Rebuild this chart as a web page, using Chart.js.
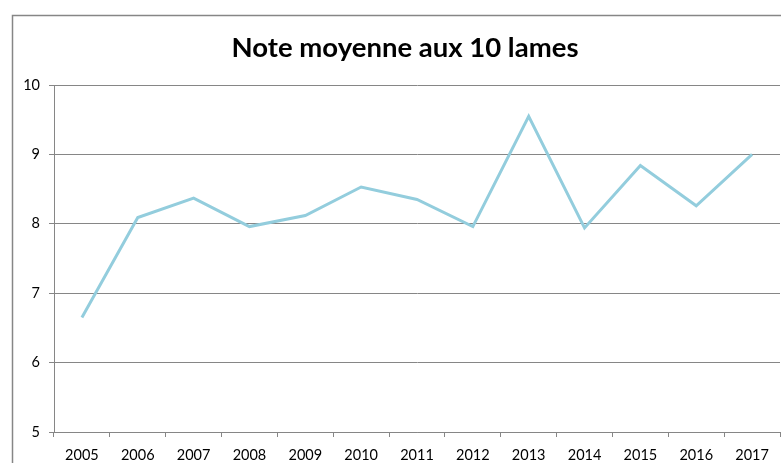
<!DOCTYPE html>
<html><head><meta charset="utf-8">
<script src="https://cdn.jsdelivr.net/npm/chart.js@4/dist/chart.umd.min.js"></script>
<style>
html,body{margin:0;padding:0;background:#fff;overflow:hidden;width:781px;height:463px;}
#wrap{position:absolute;left:0;top:0;width:810px;height:463px;}
</style></head>
<body>
<div id="wrap"><canvas id="c" width="810" height="463"></canvas></div>
<script>
const years = ['2005','2006','2007','2008','2009','2010','2011','2012','2013','2014','2015','2016','2017'];
const notes = [6.65, 8.09, 8.37, 7.96, 8.12, 8.53, 8.35, 7.96, 9.55, 7.94, 8.84, 8.26, 9.0];
const yTicks = [5, 6, 7, 8, 9, 10];
const titleText = 'Note moyenne aux 10 lames';

const frame = {
  id: 'frame',
  beforeDraw(chart) {
    const ctx = chart.ctx;
    ctx.save();
    ctx.strokeStyle = '#868686';
    ctx.lineWidth = 1.5;
    ctx.beginPath();
    ctx.moveTo(12.5, 470);
    ctx.lineTo(12.5, 15.5);
    ctx.lineTo(820, 15.5);
    ctx.stroke();
    ctx.restore();
  },
  afterDraw(chart) {
    const ctx = chart.ctx;
    ctx.save();
    ctx.fillStyle = '#000';
    ctx.font = 'bold 27.5px Lato';
    ctx.textAlign = 'center';
    ctx.textBaseline = 'middle';
    ctx.fillText(titleText, 405, 48);
    ctx.restore();
  }
};

new Chart(document.getElementById('c'), {
  type: 'line',
  data: {
    labels: years,
    datasets: [{
      data: notes,
      borderColor: '#93CDDD',
      borderWidth: 3,
      pointRadius: 0,
      tension: 0,
      fill: false
    }]
  },
  options: {
    responsive: false,
    animation: false,
    layout: { padding: { left: 0, right: 30, top: 85, bottom: 0 } },
    plugins: {
      legend: { display: false },
      tooltip: { enabled: false },
      title: { display: false }
    },
    scales: {
      x: {
        type: 'category',
        offset: true,
        grid: { offset: true, drawOnChartArea: false, drawTicks: true, tickLength: 5, color: '#868686' },
        border: { color: '#868686', width: 1 },
        ticks: { color: '#000', font: { family: 'Lato', size: 14.5 }, padding: 10, maxRotation: 0, autoSkip: false },
        afterFit(s) { s.height = 31; }
      },
      y: {
        min: 5, max: 10,
        afterBuildTicks(s) { s.ticks = yTicks.map(v => ({ value: v })); },
        grid: { color: '#868686', drawTicks: true, tickLength: 5 },
        border: { color: '#868686', width: 1 },
        ticks: { color: '#000', font: { family: 'Lato', size: 14.5 }, padding: 9 },
        afterFit(s) { s.width = 54; }
      }
    }
  },
  plugins: [frame]
});
</script>
</body></html>
